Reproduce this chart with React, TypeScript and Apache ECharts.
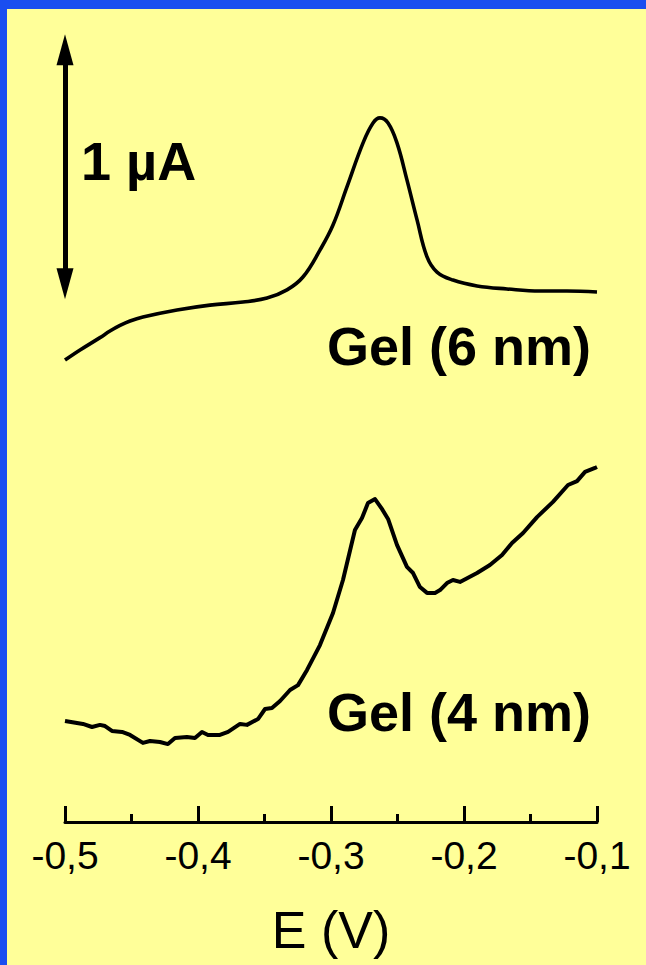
import React, { useEffect, useRef } from "react";
import * as echarts from "echarts";

// Potential axis (V)
const gel6E = [
  -0.5, -0.4887, -0.4737, -0.4662, -0.4586, -0.4511, -0.4414, -0.4158, -0.391, -0.3662,
  -0.3481, -0.3331, -0.3211, -0.3083, -0.2985, -0.288, -0.2759, -0.2684, -0.2632, -0.2571,
  -0.2504, -0.2429, -0.2353, -0.2278, -0.2203, -0.2083, -0.1902, -0.1677, -0.1429, -0.1226,
  -0.1,
];
// Current (µA, offset for stacking)
const gel6I = [
  1.974, 2.017, 2.07, 2.098, 2.122, 2.141, 2.158, 2.188, 2.209, 2.222,
  2.239, 2.274, 2.329, 2.444, 2.551, 2.714, 2.902, 2.987, 3.009, 2.987,
  2.902, 2.744, 2.573, 2.415, 2.35, 2.316, 2.291, 2.278, 2.269, 2.269,
  2.265,
];

const gel4E = [
  -0.5, -0.491, -0.4865, -0.4797, -0.4737, -0.4699, -0.4647, -0.4571, -0.4511, -0.4414,
  -0.4361, -0.4286, -0.4226, -0.4173, -0.4083, -0.4023, -0.397, -0.3925, -0.3835, -0.3774,
  -0.3684, -0.3632, -0.3549, -0.3496, -0.3444, -0.3383, -0.3308, -0.3248, -0.318, -0.3083,
  -0.2985, -0.291, -0.282, -0.2767, -0.2722, -0.2669, -0.2617, -0.2571, -0.2504, -0.2429,
  -0.2383, -0.2331, -0.2278, -0.2218, -0.218, -0.2128, -0.2083, -0.203, -0.1902, -0.1805,
  -0.1714, -0.1639, -0.1556, -0.1451, -0.1331, -0.1218, -0.115, -0.109, -0.1015, -0.1,
];
const gel4I = [
  0.432, 0.423, 0.419, 0.406, 0.415, 0.41, 0.389, 0.385, 0.372, 0.338,
  0.346, 0.342, 0.333, 0.359, 0.363, 0.359, 0.385, 0.372, 0.372, 0.385,
  0.419, 0.415, 0.44, 0.483, 0.487, 0.517, 0.564, 0.585, 0.65, 0.756,
  0.893, 1.034, 1.248, 1.299, 1.363, 1.38, 1.338, 1.295, 1.184, 1.09,
  1.064, 1.004, 0.979, 0.979, 0.991, 1.021, 1.034, 1.026, 1.064, 1.098,
  1.141, 1.192, 1.235, 1.303, 1.368, 1.44, 1.457, 1.496, 1.513, 1.517,
];

// Scale bar: 1 µA, drawn at E = -0.5 V
const scaleBarE = -0.5;
const scaleBarBase = 2.3;
const scaleBarSpan = 1;

const curveLabels = ["Gel (6 nm)", "Gel (4 nm)"];
const scaleLabel = "1 µA";
const xTitle = "E (V)";

const FONT = "'Liberation Sans', Arial, Helvetica, sans-serif";

export default function App() {
  const ref = useRef<HTMLDivElement>(null);

  useEffect(() => {
    if (!ref.current) return;
    const chart = echarts.init(ref.current, undefined, { renderer: "svg" });
    const zip = (xs: number[], ys: number[]) => xs.map((x, i) => [x, ys[i]]);

    chart.setOption({
      animation: false,
      backgroundColor: "#ffff99",
      grid: { left: 65, right: 49, top: 3, bottom: 143 },
      xAxis: {
        type: "value",
        min: -0.5,
        max: -0.1,
        interval: 0.1,
        name: xTitle,
        nameLocation: "middle",
        nameGap: 82,
        nameTextStyle: { color: "#000", fontSize: 52, fontFamily: FONT },
        axisLine: { show: true, onZero: false, lineStyle: { color: "#000", width: 3 } },
        axisTick: { show: true, inside: true, length: 16, lineStyle: { color: "#000", width: 3 } },
        minorTick: { show: true, splitNumber: 2, length: 8, lineStyle: { color: "#000", width: 3 } },
        splitLine: { show: false },
        minorSplitLine: { show: false },
        axisLabel: {
          color: "#000",
          fontSize: 39,
          fontFamily: FONT,
          margin: 14,
          formatter: (v: number) => v.toFixed(1).replace(".", ","),
        },
      },
      yAxis: {
        type: "value",
        min: 0,
        max: 3.5,
        show: false,
      },
      series: [
        {
          type: "line",
          name: curveLabels[0],
          data: zip(gel6E, gel6I),
          smooth: 0.4,
          showSymbol: false,
          clip: false,
          lineStyle: { color: "#000", width: 3.6 },
          markLine: {
            silent: true,
            symbol: ["triangle", "triangle"],
            symbolSize: [17, 31],
            label: { show: false },
            lineStyle: { color: "#000", width: 5, type: "solid" },
            data: [
              [
                { coord: [scaleBarE, scaleBarBase] },
                { coord: [scaleBarE, scaleBarBase + scaleBarSpan] },
              ],
            ],
          },
        },
        {
          type: "line",
          name: curveLabels[1],
          data: zip(gel4E, gel4I),
          smooth: false,
          showSymbol: false,
          clip: false,
          lineStyle: { color: "#000", width: 4, join: "round" },
        },
      ],
      graphic: [
        { type: "rect", shape: { x: 0, y: 0, width: 7, height: 965 }, style: { fill: "#1a4ef0" } },
        { type: "rect", shape: { x: 0, y: 0, width: 646, height: 9 }, style: { fill: "#1a4ef0" } },
        {
          type: "text",
          x: 81,
          y: 161,
          style: {
            text: scaleLabel,
            fill: "#000",
            font: `bold 54px ${FONT}`,
            textAlign: "left",
            textVerticalAlign: "middle",
          },
        },
        {
          type: "text",
          x: 591,
          y: 346,
          style: {
            text: curveLabels[0],
            fill: "#000",
            font: `bold 54px ${FONT}`,
            textAlign: "right",
            textVerticalAlign: "middle",
          },
        },
        {
          type: "text",
          x: 591,
          y: 712,
          style: {
            text: curveLabels[1],
            fill: "#000",
            font: `bold 54px ${FONT}`,
            textAlign: "right",
            textVerticalAlign: "middle",
          },
        },
      ],
    });

    return () => chart.dispose();
  }, []);

  return (
    <div
      ref={ref}
      style={{ position: "fixed", left: 0, top: 0, width: 646, height: 965 }}
    />
  );
}
